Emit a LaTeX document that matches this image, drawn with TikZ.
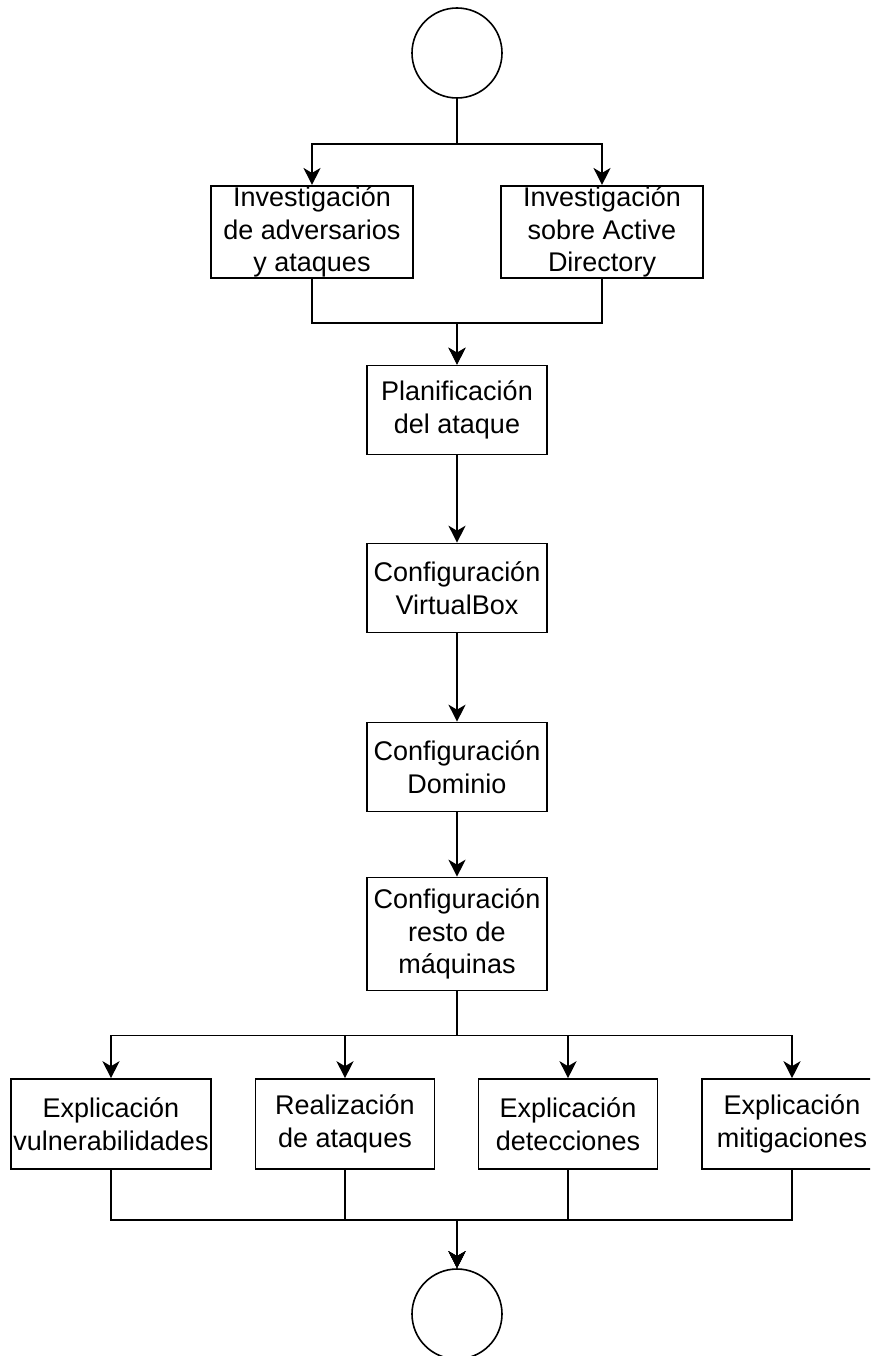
\documentclass[tikz,border=0pt]{standalone}
\usepackage{fontspec}
\setmainfont{Liberation Sans}
\usetikzlibrary{arrows.meta}
\begin{document}
\begin{tikzpicture}[x=1pt,y=-1pt,
  every node/.style={font=\fontsize{27}{32.5}\selectfont},
  box/.style={draw, line width=1.6pt, rectangle, align=center, inner sep=1pt,
              minimum height=90pt},
  term/.style={draw, line width=1.6pt, circle, minimum size=90pt, inner sep=0pt},
  flow/.style={line width=1.6pt, -{Stealth[length=17pt,width=17pt,inset=5pt]}}]
\useasboundingbox (0,0) rectangle (870,1356);
\clip (0,0) rectangle (870,1356);

% start and end points
\node[term] (start) at (457,53) {};
\node[term] (end) at (457,1314) {};

% research phase
\node[box, minimum width=202pt] (inv1) at (312,232)
  {Investigación\\de adversarios\\y ataques};
\node[box, minimum width=202pt] (inv2) at (602,232)
  {Investigación\\sobre Active\\Directory};

% planning and setup
\node[box, minimum width=180pt, minimum height=89pt] (plan) at (457,410)
  {Planificación\\del ataque};
\node[box, minimum width=180pt, minimum height=89pt] (vbox) at (457,588)
  {Configuración\\VirtualBox};
\node[box, minimum width=180pt, minimum height=89pt] (dom) at (457,767)
  {Configuración\\Dominio};
\node[box, minimum width=180pt, minimum height=113pt] (resto) at (457,934)
  {Configuración\\resto de\\máquinas};

% final work packages
\node[box, minimum width=200pt] (e1) at (111,1124)
  {Explicación\\vulnerabilidades};
\node[box, minimum width=179pt] (e2) at (345,1124)
  {Realización\\de ataques};
\node[box, minimum width=179pt] (e3) at (568,1124)
  {Explicación\\detecciones};
\node[box, minimum width=180pt] (e4) at (792,1124)
  {Explicación\\mitigaciones};

% connectors
\draw[flow] (start.south) -- ++(0,45) -| (inv1.north);
\draw[flow] (start.south) -- ++(0,45) -| (inv2.north);
\draw[flow] (inv1.south) -- ++(0,44) -| (plan.north);
\draw[flow] (inv2.south) -- ++(0,44) -| (plan.north);
\draw[flow] (plan) -- (vbox);
\draw[flow] (vbox) -- (dom);
\draw[flow] (dom) -- (resto);
\foreach \t in {e1,e2,e3,e4}{
  \draw[flow] (resto.south) -- ++(0,44) -| (\t.north);
  \draw[flow] (\t.south) -- ++(0,50) -| (end.north);
}
\end{tikzpicture}
\end{document}
